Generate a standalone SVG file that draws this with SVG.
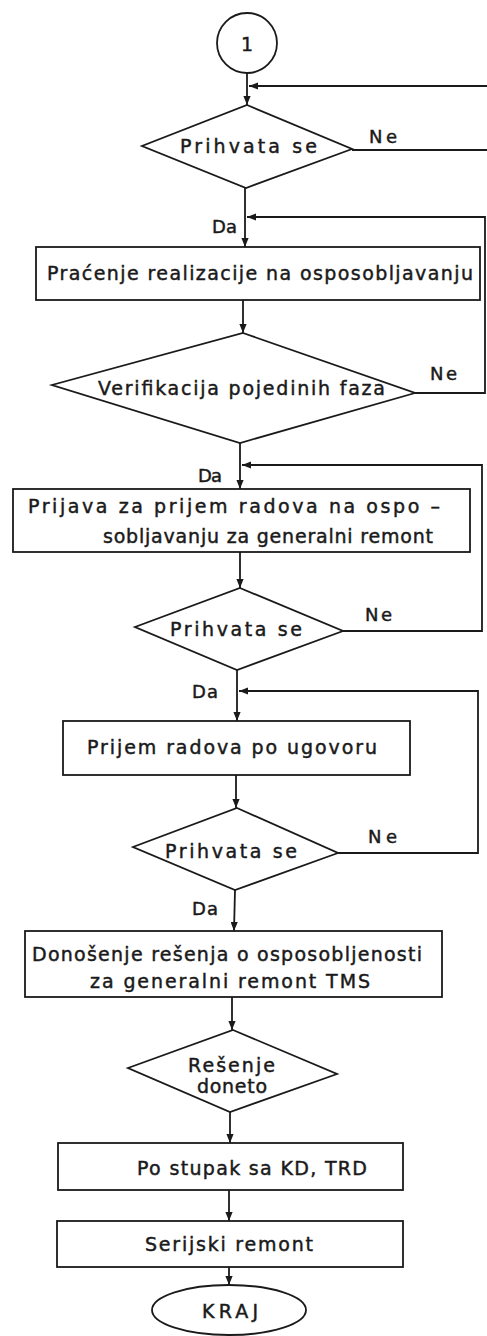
<svg xmlns="http://www.w3.org/2000/svg" width="487" height="1336" viewBox="0 0 487 1336">
  <style>
    .shape { fill: #ffffff; stroke: #1a1a1a; stroke-width: 1.8; }
    .link { fill: none; stroke: #1a1a1a; stroke-width: 1.8; marker-end: url(#arrow); }
    .plain { fill: none; stroke: #1a1a1a; stroke-width: 1.8; }
    text { font-family: "DejaVu Sans", "Liberation Sans", sans-serif; font-size: 19px; fill: #1a1a1a; stroke: #1a1a1a; stroke-width: 0.45; }
    .lbl { font-size: 18px; }
  </style>
  <defs>
    <marker id="arrow" viewBox="0 0 10 8" refX="10" refY="4" markerWidth="9" markerHeight="7.2" markerUnits="userSpaceOnUse" orient="auto">
      <path d="M0,0 L10,4 L0,8 Z" fill="#1a1a1a"/>
    </marker>
  </defs>

  <!-- connectors -->
  <g id="connectors">
    <line class="link" x1="247" y1="73" x2="247" y2="105"/>
    <polyline class="link" points="487,86 249,86"/>
    <line class="plain" x1="352" y1="150" x2="487" y2="150"/>

    <line class="link" x1="245" y1="188" x2="245" y2="247"/>
    <polyline class="link" points="415,393 485,393 485,217 247,217"/>

    <line class="link" x1="243" y1="300" x2="243" y2="333"/>

    <line class="link" x1="240" y1="443" x2="240" y2="489"/>
    <polyline class="link" points="343,631 482,631 482,465 242,465"/>

    <line class="link" x1="240" y1="552" x2="240" y2="588"/>

    <line class="link" x1="237" y1="670" x2="237" y2="721"/>
    <polyline class="link" points="338,853 478,853 478,691 239,691"/>

    <line class="link" x1="236" y1="775" x2="236" y2="808"/>

    <line class="link" x1="235" y1="890" x2="234" y2="931"/>

    <line class="link" x1="232" y1="997" x2="232" y2="1030"/>

    <line class="link" x1="230" y1="1112" x2="230" y2="1143"/>

    <line class="link" x1="229" y1="1190" x2="229" y2="1221"/>

    <line class="link" x1="229" y1="1267" x2="229" y2="1285"/>

    <!-- branch labels -->
    <text class="lbl" x="369" y="143" textLength="28" lengthAdjust="spacing">Ne</text>
    <text class="lbl" x="212" y="233" textLength="25" lengthAdjust="spacing">Da</text>
    <text class="lbl" x="430" y="380" textLength="27" lengthAdjust="spacing">Ne</text>
    <text class="lbl" x="198" y="482" textLength="24" lengthAdjust="spacing">Da</text>
    <text class="lbl" x="365" y="621" textLength="27" lengthAdjust="spacing">Ne</text>
    <text class="lbl" x="192" y="698" textLength="26" lengthAdjust="spacing">Da</text>
    <text class="lbl" x="368" y="843" textLength="29" lengthAdjust="spacing">Ne</text>
    <text class="lbl" x="192" y="915" textLength="26" lengthAdjust="spacing">Da</text>
  </g>

  <!-- connector 1 -->
  <g id="start">
    <circle class="shape" cx="247" cy="43" r="30"/>
    <text x="247" y="51" text-anchor="middle" font-size="21">1</text>
  </g>

  <g id="accept1">
    <polygon class="shape" points="247,105 352,149 246,188 142,146"/>
    <text x="180" y="153" textLength="137" lengthAdjust="spacing">Prihvata se</text>
  </g>

  <g id="monitoring">
    <rect class="shape" x="36" y="247" width="444" height="53"/>
    <text x="47" y="280" textLength="426" lengthAdjust="spacing">Praćenje realizacije na osposobljavanju</text>
  </g>

  <g id="verification">
    <polygon class="shape" points="243,333 415,393 240,443 52,385"/>
    <text x="98" y="395" textLength="287" lengthAdjust="spacing">Verifikacija pojedinih faza</text>
  </g>

  <g id="application">
    <rect class="shape" x="13" y="489" width="457" height="63"/>
    <text x="28" y="513" textLength="412" lengthAdjust="spacing">Prijava za prijem radova na ospo –</text>
    <text x="103" y="543" textLength="330" lengthAdjust="spacing">sobljavanju za generalni remont</text>
  </g>

  <g id="accept2">
    <polygon class="shape" points="240,588 343,631 237,670 135,627"/>
    <text x="170" y="636" textLength="132" lengthAdjust="spacing">Prihvata se</text>
  </g>

  <g id="handover">
    <rect class="shape" x="63" y="721" width="347" height="54"/>
    <text x="87" y="754" textLength="290" lengthAdjust="spacing">Prijem radova po ugovoru</text>
  </g>

  <g id="accept3">
    <polygon class="shape" points="237,808 338,853 235,890 133,847"/>
    <text x="165" y="858" textLength="132" lengthAdjust="spacing">Prihvata se</text>
  </g>

  <g id="decision">
    <rect class="shape" x="25" y="931" width="417" height="66"/>
    <text x="32" y="961" textLength="390" lengthAdjust="spacing">Donošenje rešenja o osposobljenosti</text>
    <text x="90" y="988" textLength="280" lengthAdjust="spacing">za generalni remont TMS</text>
  </g>

  <g id="decided">
    <polygon class="shape" points="233,1030 337,1074 230,1112 128,1068"/>
    <text x="188" y="1072" textLength="87" lengthAdjust="spacing">Rešenje</text>
    <text x="197" y="1093" textLength="70" lengthAdjust="spacing">doneto</text>
  </g>

  <g id="procedure">
    <rect class="shape" x="58" y="1143" width="345" height="47"/>
    <text x="137" y="1175" textLength="230" lengthAdjust="spacing">Po stupak sa KD, TRD</text>
  </g>

  <g id="serial">
    <rect class="shape" x="57" y="1221" width="346" height="46"/>
    <text x="145" y="1251" textLength="168" lengthAdjust="spacing">Serijski remont</text>
  </g>

  <g id="end">
    <ellipse class="shape" cx="229" cy="1310" rx="77" ry="25"/>
    <text x="202" y="1318" textLength="56" lengthAdjust="spacing">KRAJ</text>
  </g>
</svg>
